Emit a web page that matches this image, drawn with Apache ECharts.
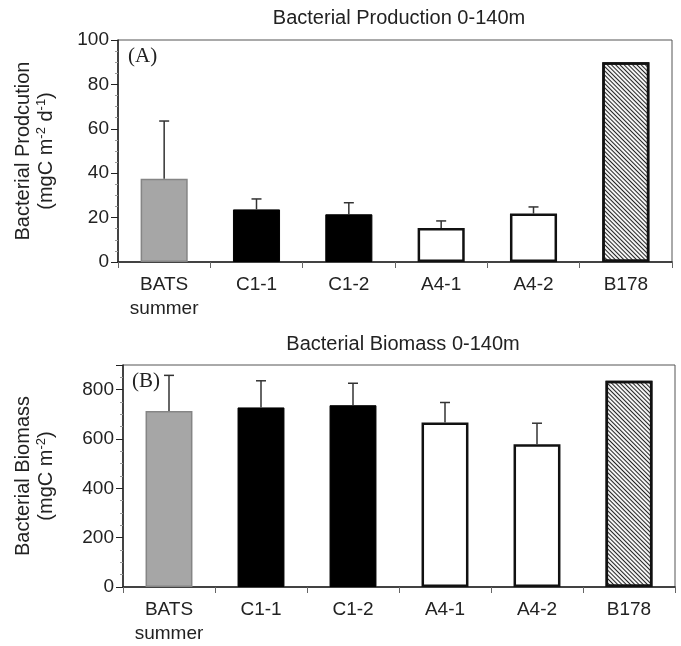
<!DOCTYPE html>
<html>
<head>
<meta charset="utf-8">
<script src="https://cdn.jsdelivr.net/npm/echarts@6/dist/echarts.min.js"></script>
<style>
    html, body { margin: 0; padding: 0; background: #fff; }
    #chart { width: 681px; height: 646px; }
</style>
</head>
<body>
<div id="chart"></div>
<script>
    // 数据
    const categories = ['BATS\nsummer', 'C1-1', 'C1-2', 'A4-1', 'A4-2', 'B178'];
    const production = [37.5, 23.7, 21.5, 15.3, 21.8, 90];
    const productionErr = [26, 4.7, 5.2, 3.2, 3.0, 0];
    const biomass = [714, 728, 737, 667, 579, 836];
    const biomassErr = [144, 108, 89, 81, 85, 0];
    const productionTicks = [0, 20, 40, 60, 80, 100];
    const biomassTicks = [0, 200, 400, 600, 800];

    const font = 'Liberation Sans, Arial, sans-serif';
    const hatch = {
        symbol: 'rect',
        symbolSize: 1,
        dashArrayX: [1, 0],
        dashArrayY: [1, 2],
        rotation: Math.PI / 4,
        color: '#222'
    };

    // 每根柱子的样式
    const barStyles = [
        { color: '#a6a6a6', borderColor: '#858585', borderWidth: 1.5 },
        { color: '#000', borderColor: '#000', borderWidth: 1 },
        { color: '#000', borderColor: '#000', borderWidth: 1 },
        { color: '#fff', borderColor: '#111', borderWidth: 2.5 },
        { color: '#fff', borderColor: '#111', borderWidth: 2.5 },
        { color: '#f4f4f4', borderColor: '#111', borderWidth: 2.5, decal: hatch }
    ];

    function barData(values) {
        return values.map((v, i) => ({ value: v, itemStyle: barStyles[i] }));
    }

    function errData(values, errs) {
        return values.map((v, i) => [i, v, errs[i]]).filter(d => d[2] > 0);
    }

    // 误差线
    function renderErr(params, api) {
        const x = api.value(0);
        const v = api.value(1);
        const e = api.value(2);
        const p0 = api.coord([x, v]);
        const p1 = api.coord([x, v + e]);
        const st = { stroke: '#333', lineWidth: 1.5 };
        return {
            type: 'group',
            children: [
                { type: 'line', shape: { x1: p0[0], y1: p0[1], x2: p1[0], y2: p1[1] }, style: st },
                { type: 'line', shape: { x1: p1[0] - 5, y1: p1[1], x2: p1[0] + 5, y2: p1[1] }, style: st }
            ]
        };
    }

    const nameRich = {
        a: { fontFamily: font, fontSize: 20, color: '#222', lineHeight: 23 },
        s: { fontFamily: font, fontSize: 13, color: '#222', verticalAlign: 'top', lineHeight: 21 }
    };

    function xAxis(gridIndex) {
        return {
            type: 'category',
            gridIndex: gridIndex,
            data: categories,
            axisLine: { lineStyle: { color: '#222', width: 1.5 } },
            axisTick: { show: true, length: 6, lineStyle: { color: '#666' } },
            axisLabel: { fontFamily: font, fontSize: 19, color: '#222', lineHeight: 24, margin: 11 }
        };
    }

    function yAxis(gridIndex, ticks, max, name, gap) {
        return {
            type: 'value',
            gridIndex: gridIndex,
            min: 0,
            max: max,
            interval: ticks[1] - ticks[0],
            name: name,
            nameLocation: 'middle',
            nameRotate: 90,
            nameGap: gap,
            nameTextStyle: { rich: nameRich },
            axisLine: { show: true, lineStyle: { color: '#222', width: 1.5 } },
            axisTick: { show: true, length: 7, lineStyle: { color: '#222' } },
            minorTick: { show: true, splitNumber: 4, length: 3, lineStyle: { color: '#999' } },
            splitLine: { show: false },
            axisLabel: {
                fontFamily: font, fontSize: 19, color: '#222', margin: 9,
                formatter: v => (ticks.indexOf(v) >= 0 ? String(v) : '')
            }
        };
    }

    const chart = echarts.init(document.getElementById('chart'));
    chart.setOption({
        animation: false,
        backgroundColor: '#fff',
        title: [
            { text: 'Bacterial Production 0-140m', left: 394, top: 3, textAlign: 'center',
              textStyle: { fontFamily: font, fontSize: 20, fontWeight: 'normal', color: '#222' } },
            { text: 'Bacterial Biomass 0-140m', left: 398, top: 329, textAlign: 'center',
              textStyle: { fontFamily: font, fontSize: 20, fontWeight: 'normal', color: '#222' } },
            { text: '(A)', left: 123, top: 41,
              textStyle: { fontFamily: 'Liberation Serif, serif', fontSize: 21, fontWeight: 'normal', color: '#222' } },
            { text: '(B)', left: 127, top: 366,
              textStyle: { fontFamily: 'Liberation Serif, serif', fontSize: 21, fontWeight: 'normal', color: '#222' } }
        ],
        grid: [
            { left: 118, right: 9, top: 40, height: 222, show: true, borderColor: '#555', borderWidth: 1 },
            { left: 123, right: 6, top: 365, height: 222, show: true, borderColor: '#555', borderWidth: 1 }
        ],
        xAxis: [xAxis(0), xAxis(1)],
        yAxis: [
            yAxis(0, productionTicks, 100, '{a|Bacterial Prodcution}\n{a|(mgC m}{s|-2}{a| d}{s|-1}{a|)}', 60),
            yAxis(1, biomassTicks, 900, '{a|Bacterial Biomass}\n{a|(mgC m}{s|-2}{a|)}', 65)
        ],
        series: [
            { type: 'bar', xAxisIndex: 0, yAxisIndex: 0, barWidth: '51%', data: barData(production) },
            { type: 'custom', xAxisIndex: 0, yAxisIndex: 0, renderItem: renderErr, data: errData(production, productionErr), z: 3 },
            { type: 'bar', xAxisIndex: 1, yAxisIndex: 1, barWidth: '51%', data: barData(biomass) },
            { type: 'custom', xAxisIndex: 1, yAxisIndex: 1, renderItem: renderErr, data: errData(biomass, biomassErr), z: 3 }
        ]
    });
</script>
</body>
</html>
